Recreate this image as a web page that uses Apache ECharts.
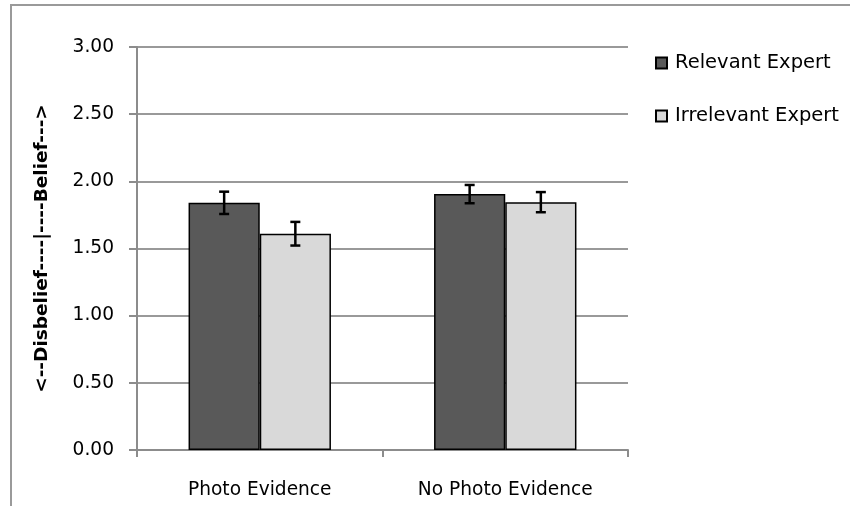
<!DOCTYPE html>
<html>
<head>
<meta charset="utf-8">
<script src="https://cdn.jsdelivr.net/npm/echarts@6/dist/echarts.min.js"></script>
<style>html,body{margin:0;padding:0;background:#fff}#c{width:850px;height:506px}</style>
</head>
<body>
<div id="c"></div>
<script>
var categories = ['Photo Evidence', 'No Photo Evidence'];
var seriesNames = ['Relevant Expert', 'Irrelevant Expert'];
var relevant = [1.84, 1.905];
var irrelevant = [1.61, 1.845];
var relevantErr = [0.083, 0.068];
var irrelevantErr = [0.088, 0.075];
var yTicks = [0, 0.5, 1, 1.5, 2, 2.5, 3];

var CAT_GAP = 0.42;
var FONT = '"DejaVu Sans", sans-serif';

function errSeries(values, errs, side) {
  var data = values.map(function (v, i) { return [i, v - errs[i], v + errs[i]]; });
  return {
    type: 'custom',
    silent: true,
    z: 10,
    data: data,
    encode: { x: 0, y: [1, 2] },
    renderItem: function (params, api) {
      var idx = api.value(0);
      var lo = api.coord([idx, api.value(1)]);
      var hi = api.coord([idx, api.value(2)]);
      var band = api.size([1, 0])[0];
      var bw = band * (1 - CAT_GAP) / 2;
      var x = lo[0] + side * bw / 2;
      var cap = 5;
      var st = { stroke: '#000', lineWidth: 2.5 };
      return {
        type: 'group',
        children: [
          { type: 'line', shape: { x1: x, y1: lo[1], x2: x, y2: hi[1] }, style: st },
          { type: 'line', shape: { x1: x - cap, y1: lo[1], x2: x + cap, y2: lo[1] }, style: st },
          { type: 'line', shape: { x1: x - cap, y1: hi[1], x2: x + cap, y2: hi[1] }, style: st }
        ]
      };
    }
  };
}

var chart = echarts.init(document.getElementById('c'));
chart.setOption({
  animation: false,
  backgroundColor: '#fff',
  graphic: [{
    type: 'polyline',
    shape: { points: [[11, 510], [11, 5], [850, 5]] },
    style: { stroke: '#9a9a9a', lineWidth: 2, fill: null }
  }],
  grid: { left: 137, top: 47, right: 222, bottom: 56 },
  legend: {
    orient: 'vertical',
    left: 650,
    top: 47,
    itemWidth: 11,
    itemHeight: 11,
    itemGap: 31,
    icon: 'rect',
    data: seriesNames,
    textStyle: { fontFamily: FONT, fontSize: 19.5, color: '#000', padding: [0, 0, 0, 3], lineHeight: 22 }
  },
  xAxis: {
    type: 'category',
    data: categories,
    axisLine: { lineStyle: { color: '#8c8c8c', width: 2 } },
    axisTick: { show: true, length: 7, lineStyle: { color: '#8c8c8c', width: 2 } },
    axisLabel: { fontFamily: FONT, fontSize: 18.6, color: '#000', margin: 31 }
  },
  yAxis: {
    type: 'value',
    min: 0,
    max: 3,
    interval: 0.5,
    name: '<--Disbelief----|----Belief--->',
    nameLocation: 'middle',
    nameGap: 85,
    nameRotate: 90,
    nameTextStyle: { fontFamily: FONT, fontWeight: 'bold', fontSize: 18.5, color: '#000' },
    axisLine: { show: true, lineStyle: { color: '#8c8c8c', width: 2 } },
    axisTick: { show: true, length: 8, lineStyle: { color: '#8c8c8c', width: 2 } },
    splitLine: { lineStyle: { color: '#999999', width: 2 } },
    axisLabel: {
      fontFamily: FONT, fontSize: 18.6, color: '#000', margin: 23,
      formatter: function (v) { return v.toFixed(2); }
    }
  },
  series: [
    {
      name: seriesNames[0], type: 'bar', data: relevant,
      barGap: '0%', barCategoryGap: (CAT_GAP * 100) + '%',
      itemStyle: { color: '#595959', borderColor: '#000', borderWidth: 1.5 }
    },
    {
      name: seriesNames[1], type: 'bar', data: irrelevant,
      barGap: '0%', barCategoryGap: (CAT_GAP * 100) + '%',
      itemStyle: { color: '#d9d9d9', borderColor: '#000', borderWidth: 1.5 }
    },
    errSeries(relevant, relevantErr, -1),
    errSeries(irrelevant, irrelevantErr, 1)
  ]
});
</script>
</body>
</html>
